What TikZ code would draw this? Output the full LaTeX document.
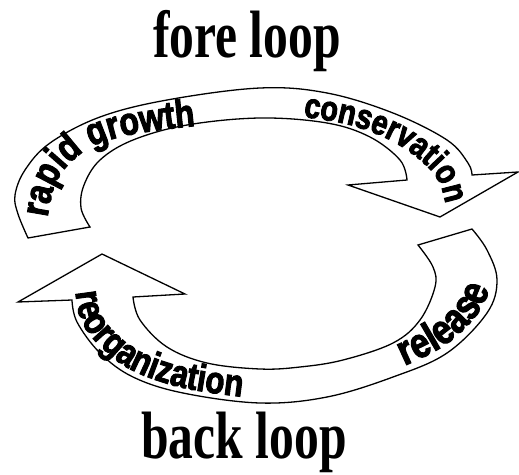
\documentclass[tikz,border=0pt]{standalone}
\usepackage{fontspec}
\setmainfont{Liberation Serif}
\newfontfamily\arcfont{Liberation Sans}[FakeStretch=0.82, FakeBold=2.5]
\usetikzlibrary{decorations.text}

\tikzset{
  band/.style={draw=black, line width=1.3pt, fill=white, line join=miter},
  looptitle/.style={font=\bfseries\fontsize{67}{67}\selectfont, xscale=0.74, anchor=base, inner sep=0pt},
  arclabel/.style 2 args={decorate, decoration={text along path, text align={align=center},
      text={|\arcfont\bfseries\fontsize{#2}{#2}\selectfont|#1}}},
  curve/.style={smooth, tension=0.6}
}

\begin{document}
\begin{tikzpicture}[x=1pt, y=-1pt]
  \useasboundingbox (0,0) rectangle (519,474);

  % titles
  \node[looptitle] (fore) at (247,57) {fore loop};
  \node[looptitle] (back) at (244,458) {back loop};

  % upper arrow: widening tail at the left, head at the right
  \draw[band] plot[curve] coordinates {(28,238) (18,214) (15,195) (25,170) (50,143) (100,117) (167,100) (260,88) (327,93) (393,113) (447,140) (468,163) (472,175)}
    -- (518,172) -- (440,217) -- (348,185) -- (407,180)
    -- plot[curve] coordinates {(407,180) (400,160) (370,137) (327,123) (260,118) (187,125) (133,140) (100,160) (84,185) (81,208) (90,227)}
    -- cycle;

  % lower arrow: widening tail at the right, head at the left
  \draw[band] plot[curve] coordinates {(72,300) (77,322) (100,353) (133,377) (183,393) (260,403) (327,397) (393,377) (447,353) (487,313) (497,280) (487,250) (472,229)}
    -- (418,245)
    -- plot[curve] coordinates {(418,245) (433,267) (435,287) (420,320) (393,343) (343,360) (300,367) (260,369) (207,363) (167,347) (140,320) (133,297)}
    -- (185,294) -- (102,254) -- (18,302) -- cycle;

  % phase labels along the bands
  \path[arclabel={rapid growth}{39}] plot[curve] coordinates {(47,232) (48,214) (55,185) (68,165) (90,148) (120,137) (160,130) (195,126) (210,125)};
  \path[arclabel={conservation}{35}] plot[curve] coordinates {(285,114) (305,117) (350,125) (390,140) (420,160) (438,180) (446,205) (449,222)};
  \path[arclabel={reorganization}{38}] plot[curve] coordinates {(73,272) (75,290) (82,322) (104,350) (136,372) (184,388) (243,397) (262,399)};
  \path[arclabel={release}{42}] plot[curve] coordinates {(383,376) (400,368) (445,345) (478,313) (492,282) (496,266)};
\end{tikzpicture}
\end{document}
